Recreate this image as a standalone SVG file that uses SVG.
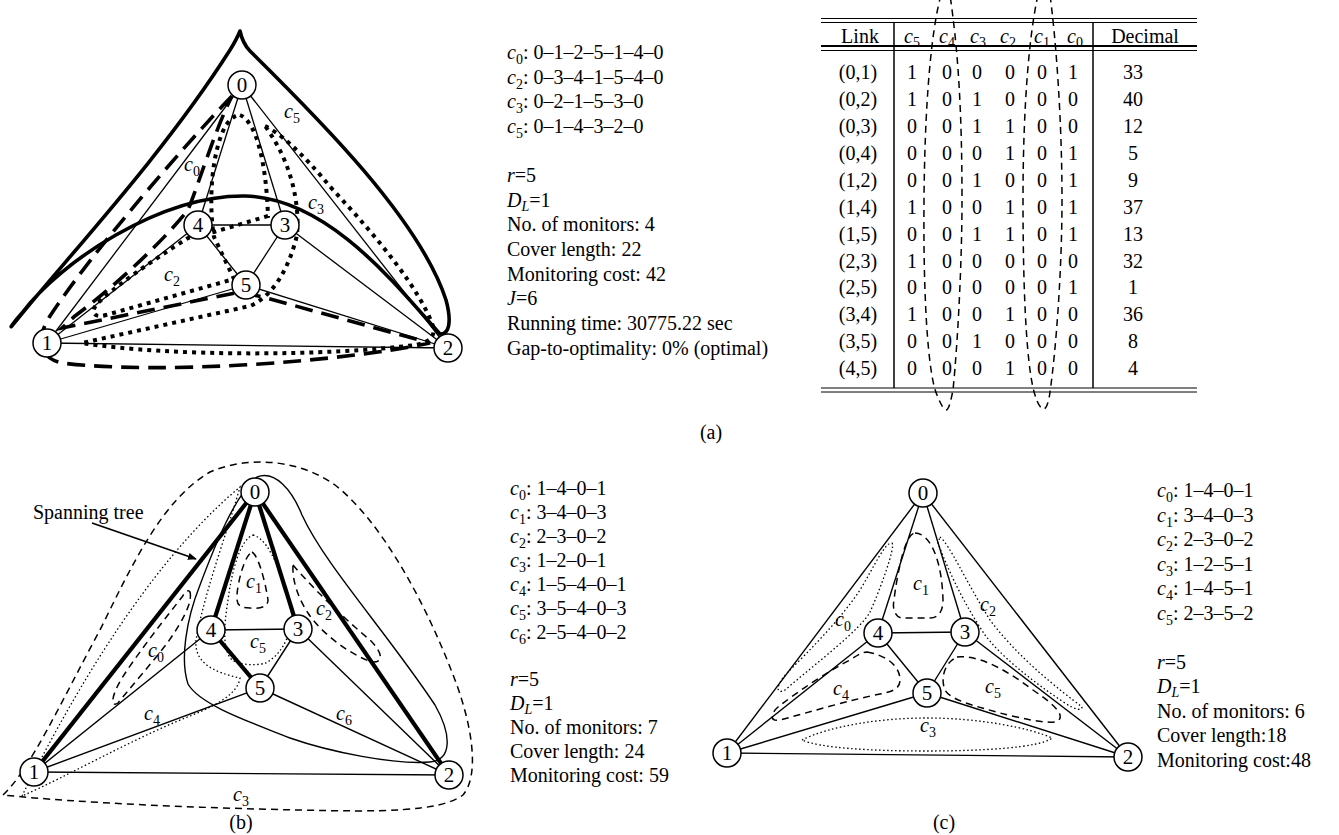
<svg xmlns="http://www.w3.org/2000/svg" width="1339" height="835" viewBox="0 0 1339 835">
<style>
text{font-family:"Liberation Serif","Times New Roman",serif;font-size:20px;fill:#000}
.i{font-style:italic}
.s{font-size:14px}
.m{text-anchor:middle}
.node circle{fill:#fff;stroke:#000;stroke-width:1.5}
.node text{font-size:21px;text-anchor:middle}
.e{stroke:#000;stroke-width:1.3;fill:none}
.tk{stroke:#000;stroke-width:4.2;fill:none}
.solid3{stroke:#000;stroke-width:3.6;fill:none;stroke-linejoin:round}
.dash3{stroke:#000;stroke-width:3.6;fill:none;stroke-dasharray:18 9}
.dot3{stroke:#000;stroke-width:4;fill:none;stroke-dasharray:4 5}
.dsh{stroke:#000;stroke-width:1.5;fill:none;stroke-dasharray:7 5}
.dtt{stroke:#000;stroke-width:1.3;fill:none;stroke-dasharray:1.5 2.5}
.thin{stroke:#000;stroke-width:1.4;fill:none}
.tl{stroke:#000;fill:none}
</style>
<defs>
<marker id="ah" viewBox="0 0 10 10" refX="9" refY="5" markerWidth="9" markerHeight="9" orient="auto" markerUnits="userSpaceOnUse">
<path d="M0,1 L10,5 L0,9 Z" fill="#000"/>
</marker>
</defs>

<!-- ================= (a) ================= -->
<g id="a-edges">
<line class="e" x1="242" y1="85" x2="47" y2="343"/>
<line class="e" x1="242" y1="85" x2="198" y2="225"/>
<line class="e" x1="242" y1="85" x2="285" y2="225"/>
<line class="e" x1="242" y1="85" x2="448" y2="348"/>
<line class="e" x1="198" y1="225" x2="285" y2="225"/>
<line class="e" x1="198" y1="225" x2="246" y2="285"/>
<line class="e" x1="285" y1="225" x2="246" y2="285"/>
<line class="e" x1="198" y1="225" x2="47" y2="343"/>
<line class="e" x1="246" y1="285" x2="47" y2="343"/>
<line class="e" x1="246" y1="285" x2="448" y2="348"/>
<line class="e" x1="285" y1="225" x2="448" y2="348"/>
<line class="e" x1="47" y1="343" x2="448" y2="348"/>
</g>
<g id="a-cycles">
<path class="solid3" d="M12,326 C60,265 160,160 230,50 C235,42 238,36 240,31 C242,40 245,46 250,51 C320,120 420,220 446,300 C452,322 449,335 440,334 C400,290 330,198 245,196 C160,195 60,262 22,313 C14,322 9,329 12,326 Z"/>
<path class="dash3" d="M232,96 C180,150 90,255 50,316 C36,338 38,358 62,363 C160,375 340,362 430,343 L263,297 L240,292 L62,328 L75,316 C110,290 160,245 188,210 C200,180 215,130 232,96"/>
<path class="dot3" d="M240,115 C256,122 266,160 268,216 L214,232 L188,238 C150,262 110,290 96,305 C90,314 96,318 106,315 L234,279 L214,237 C208,200 212,150 226,125 C232,117 236,115 240,115 Z"/>
<path class="dot3" d="M265,126 C278,132 300,150 333,190 C380,240 420,290 433,326 C436,340 425,343 415,345 C330,356 170,357 82,343 L250,306 C275,295 290,265 297,235 C300,200 290,160 265,126 Z"/>
</g>
<g id="a-labels">
<text x="284" y="118"><tspan class="i">c</tspan><tspan class="s" dy="5">5</tspan></text>
<text x="184" y="171"><tspan class="i">c</tspan><tspan class="s" dy="5">0</tspan></text>
<text x="308" y="209"><tspan class="i">c</tspan><tspan class="s" dy="5">3</tspan></text>
<text x="164" y="281"><tspan class="i">c</tspan><tspan class="s" dy="5">2</tspan></text>
</g>
<g id="a-n0" class="node"><circle cx="242" cy="85" r="14"/><text x="242" y="92">0</text></g>
<g id="a-n4" class="node"><circle cx="198" cy="225" r="14"/><text x="198" y="232">4</text></g>
<g id="a-n3" class="node"><circle cx="285" cy="225" r="14"/><text x="285" y="232">3</text></g>
<g id="a-n5" class="node"><circle cx="246" cy="285" r="14"/><text x="246" y="292">5</text></g>
<g id="a-n1" class="node"><circle cx="47" cy="343" r="14"/><text x="47" y="350">1</text></g>
<g id="a-n2" class="node"><circle cx="448" cy="348" r="14"/><text x="448" y="355">2</text></g>

<g id="a-text">
<text x="507" y="59"><tspan class="i">c</tspan><tspan class="s" dy="5">0</tspan><tspan dy="-5">: 0–1–2–5–1–4–0</tspan></text>
<text x="507" y="83.5"><tspan class="i">c</tspan><tspan class="s" dy="5">2</tspan><tspan dy="-5">: 0–3–4–1–5–4–0</tspan></text>
<text x="507" y="108"><tspan class="i">c</tspan><tspan class="s" dy="5">3</tspan><tspan dy="-5">: 0–2–1–5–3–0</tspan></text>
<text x="507" y="132.5"><tspan class="i">c</tspan><tspan class="s" dy="5">5</tspan><tspan dy="-5">: 0–1–4–3–2–0</tspan></text>
<text x="507" y="182"><tspan class="i">r</tspan>=5</text>
<text x="507" y="206.5"><tspan class="i">D</tspan><tspan class="s i" dy="4">L</tspan><tspan dy="-4">=1</tspan></text>
<text x="507" y="231">No. of monitors: 4</text>
<text x="507" y="256">Cover length: 22</text>
<text x="507" y="280.5">Monitoring cost: 42</text>
<text x="507" y="305"><tspan class="i">J</tspan>=6</text>
<text x="507" y="330">Running time: 30775.22 sec</text>
<text x="507" y="355">Gap-to-optimality: 0% (optimal)</text>
</g>

<g id="table">
<line class="tl" x1="821" y1="18.5" x2="1197" y2="18.5" stroke-width="1"/>
<line class="tl" x1="821" y1="22.5" x2="1197" y2="22.5" stroke-width="1"/>
<line class="tl" x1="821" y1="46" x2="1197" y2="46" stroke-width="2"/>
<line class="tl" x1="821" y1="50.5" x2="1197" y2="50.5" stroke-width="1"/>
<line class="tl" x1="821" y1="388" x2="1197" y2="388" stroke-width="1"/>
<line class="tl" x1="821" y1="392" x2="1197" y2="392" stroke-width="1"/>
<line class="tl" x1="894" y1="22.5" x2="894" y2="388" stroke-width="1.5"/>
<line class="tl" x1="1093" y1="22.5" x2="1093" y2="388" stroke-width="1.5"/>
<g class="m">
<text x="860" y="43">Link</text>
<text x="912" y="43"><tspan class="i">c</tspan><tspan class="s" dy="4">5</tspan></text>
<text x="947" y="43"><tspan class="i">c</tspan><tspan class="s" dy="4">4</tspan></text>
<text x="978" y="43"><tspan class="i">c</tspan><tspan class="s" dy="4">3</tspan></text>
<text x="1008" y="43"><tspan class="i">c</tspan><tspan class="s" dy="4">2</tspan></text>
<text x="1042" y="43"><tspan class="i">c</tspan><tspan class="s" dy="4">1</tspan></text>
<text x="1075" y="43"><tspan class="i">c</tspan><tspan class="s" dy="4">0</tspan></text>
<text x="1145" y="43">Decimal</text>
</g>
<g class="m">
<text x="858" y="79">(0,1)</text><text x="912" y="79">1</text><text x="947" y="79">0</text><text x="977" y="79">0</text><text x="1010" y="79">0</text><text x="1042" y="79">0</text><text x="1073" y="79">1</text><text x="1133" y="79">33</text>
<text x="858" y="106">(0,2)</text><text x="912" y="106">1</text><text x="947" y="106">0</text><text x="977" y="106">1</text><text x="1010" y="106">0</text><text x="1042" y="106">0</text><text x="1073" y="106">0</text><text x="1133" y="106">40</text>
<text x="858" y="133">(0,3)</text><text x="912" y="133">0</text><text x="947" y="133">0</text><text x="977" y="133">1</text><text x="1010" y="133">1</text><text x="1042" y="133">0</text><text x="1073" y="133">0</text><text x="1133" y="133">12</text>
<text x="858" y="160">(0,4)</text><text x="912" y="160">0</text><text x="947" y="160">0</text><text x="977" y="160">0</text><text x="1010" y="160">1</text><text x="1042" y="160">0</text><text x="1073" y="160">1</text><text x="1133" y="160">5</text>
<text x="858" y="187">(1,2)</text><text x="912" y="187">0</text><text x="947" y="187">0</text><text x="977" y="187">1</text><text x="1010" y="187">0</text><text x="1042" y="187">0</text><text x="1073" y="187">1</text><text x="1133" y="187">9</text>
<text x="858" y="214">(1,4)</text><text x="912" y="214">1</text><text x="947" y="214">0</text><text x="977" y="214">0</text><text x="1010" y="214">1</text><text x="1042" y="214">0</text><text x="1073" y="214">1</text><text x="1133" y="214">37</text>
<text x="858" y="241">(1,5)</text><text x="912" y="241">0</text><text x="947" y="241">0</text><text x="977" y="241">1</text><text x="1010" y="241">1</text><text x="1042" y="241">0</text><text x="1073" y="241">1</text><text x="1133" y="241">13</text>
<text x="858" y="268">(2,3)</text><text x="912" y="268">1</text><text x="947" y="268">0</text><text x="977" y="268">0</text><text x="1010" y="268">0</text><text x="1042" y="268">0</text><text x="1073" y="268">0</text><text x="1133" y="268">32</text>
<text x="858" y="294">(2,5)</text><text x="912" y="294">0</text><text x="947" y="294">0</text><text x="977" y="294">0</text><text x="1010" y="294">0</text><text x="1042" y="294">0</text><text x="1073" y="294">1</text><text x="1133" y="294">1</text>
<text x="858" y="321">(3,4)</text><text x="912" y="321">1</text><text x="947" y="321">0</text><text x="977" y="321">0</text><text x="1010" y="321">1</text><text x="1042" y="321">0</text><text x="1073" y="321">0</text><text x="1133" y="321">36</text>
<text x="858" y="348">(3,5)</text><text x="912" y="348">0</text><text x="947" y="348">0</text><text x="977" y="348">1</text><text x="1010" y="348">0</text><text x="1042" y="348">0</text><text x="1073" y="348">0</text><text x="1133" y="348">8</text>
<text x="858" y="375">(4,5)</text><text x="912" y="375">0</text><text x="947" y="375">0</text><text x="977" y="375">0</text><text x="1010" y="375">1</text><text x="1042" y="375">0</text><text x="1073" y="375">0</text><text x="1133" y="375">4</text>
</g>
<path class="dsh" d="M941,-5 C934,20 925,80 924,200 C923,320 930,380 937,395 C941,405 944,410 946,410 C949,410 951,400 953,390 C958,340 962,260 962,200 C962,110 958,50 950,-5"/>
<path class="dsh" d="M1038,-5 C1030,30 1023,100 1023,200 C1023,300 1027,370 1035,395 C1038,405 1041,409 1044,409 C1047,408 1049,400 1050,392 C1056,350 1062,270 1062,200 C1062,120 1056,40 1050,-5"/>
</g>
<text x="711" y="439" class="m">(a)</text>

<!-- ================= (b) ================= -->
<g id="b-edges">
<line class="tk" x1="255" y1="492" x2="34" y2="772"/>
<line class="tk" x1="255" y1="492" x2="211" y2="630"/>
<line class="tk" x1="255" y1="492" x2="298" y2="629"/>
<line class="tk" x1="255" y1="492" x2="449" y2="775"/>
<line class="tk" x1="211" y1="630" x2="260" y2="688"/>
<line class="thin" x1="211" y1="630" x2="298" y2="629"/>
<line class="thin" x1="298" y1="629" x2="260" y2="688"/>
<line class="thin" x1="211" y1="630" x2="34" y2="772"/>
<line class="thin" x1="260" y1="688" x2="34" y2="772"/>
<line class="thin" x1="260" y1="688" x2="449" y2="775"/>
<line class="thin" x1="298" y1="629" x2="449" y2="775"/>
<line class="thin" x1="34" y1="772" x2="449" y2="775"/>
</g>
<g id="b-cycles">
<path class="dsh" d="M3,795 C30,770 62,700 100,630 C132,565 162,500 210,472 C250,455 300,460 335,485 C380,520 425,600 455,680 C472,725 480,775 463,795 C440,812 380,812 300,810 C200,808 80,803 3,795 Z"/>
<path class="dtt" d="M22,796 C60,720 140,570 240,487 C228,530 205,590 196,640 C194,662 212,672 240,678 C238,694 215,706 190,716 C130,740 70,775 22,796 Z"/>
<path class="dtt" d="M253,535 C272,540 285,585 292,615 C290,640 280,655 266,663 C255,666 240,665 232,660 C222,650 224,625 228,600 C232,570 240,540 253,535 Z"/>
<path class="thin" d="M257,477 C275,470 292,490 302,515 C325,565 385,630 435,705 C452,735 452,760 430,762 C395,765 330,752 290,738 C250,722 200,705 188,684 C180,660 186,620 200,585 C215,545 235,495 257,477 Z"/>
<path class="dsh" d="M190,592 C193,602 182,622 168,642 C152,663 130,688 118,703 C111,708 110,698 122,678 C140,650 168,615 182,597 C185,592 188,589 190,592 Z"/>
<path class="dsh" d="M252,552 C258,555 265,580 268,600 C268,607 260,609 250,608 C240,608 236,605 237,595 C238,580 245,555 252,552 Z"/>
<path class="dsh" d="M293,565 C310,585 340,615 370,640 C385,655 382,663 372,662 C350,655 320,632 308,613 C298,598 292,580 293,565 Z"/>
</g>
<g id="b-labels">
<text x="148" y="657"><tspan class="i">c</tspan><tspan class="s" dy="5">0</tspan></text>
<text x="246" y="588"><tspan class="i">c</tspan><tspan class="s" dy="5">1</tspan></text>
<text x="316" y="615"><tspan class="i">c</tspan><tspan class="s" dy="5">2</tspan></text>
<text x="250" y="648"><tspan class="i">c</tspan><tspan class="s" dy="5">5</tspan></text>
<text x="144" y="720"><tspan class="i">c</tspan><tspan class="s" dy="5">4</tspan></text>
<text x="336" y="720"><tspan class="i">c</tspan><tspan class="s" dy="5">6</tspan></text>
<text x="233" y="801"><tspan class="i">c</tspan><tspan class="s" dy="5">3</tspan></text>
</g>
<g id="b-spanning">
<text x="33" y="519" font-size="21">Spanning tree</text>
<line x1="92" y1="523" x2="196" y2="559" stroke="#000" stroke-width="1.8" marker-end="url(#ah)"/>
</g>
<g id="b-n0" class="node"><circle cx="255" cy="492" r="14"/><text x="255" y="499">0</text></g>
<g id="b-n4" class="node"><circle cx="211" cy="630" r="14"/><text x="211" y="637">4</text></g>
<g id="b-n3" class="node"><circle cx="298" cy="629" r="14"/><text x="298" y="636">3</text></g>
<g id="b-n5" class="node"><circle cx="260" cy="688" r="14"/><text x="260" y="695">5</text></g>
<g id="b-n1" class="node"><circle cx="34" cy="772" r="14"/><text x="34" y="779">1</text></g>
<g id="b-n2" class="node"><circle cx="449" cy="775" r="14"/><text x="449" y="782">2</text></g>

<g id="b-text">
<text x="510" y="495"><tspan class="i">c</tspan><tspan class="s" dy="5">0</tspan><tspan dy="-5">: 1–4–0–1</tspan></text>
<text x="510" y="519"><tspan class="i">c</tspan><tspan class="s" dy="5">1</tspan><tspan dy="-5">: 3–4–0–3</tspan></text>
<text x="510" y="543"><tspan class="i">c</tspan><tspan class="s" dy="5">2</tspan><tspan dy="-5">: 2–3–0–2</tspan></text>
<text x="510" y="567"><tspan class="i">c</tspan><tspan class="s" dy="5">3</tspan><tspan dy="-5">: 1–2–0–1</tspan></text>
<text x="510" y="591"><tspan class="i">c</tspan><tspan class="s" dy="5">4</tspan><tspan dy="-5">: 1–5–4–0–1</tspan></text>
<text x="510" y="614.5"><tspan class="i">c</tspan><tspan class="s" dy="5">5</tspan><tspan dy="-5">: 3–5–4–0–3</tspan></text>
<text x="510" y="638.5"><tspan class="i">c</tspan><tspan class="s" dy="5">6</tspan><tspan dy="-5">: 2–5–4–0–2</tspan></text>
<text x="510" y="686"><tspan class="i">r</tspan>=5</text>
<text x="510" y="710"><tspan class="i">D</tspan><tspan class="s i" dy="4">L</tspan><tspan dy="-4">=1</tspan></text>
<text x="510" y="734">No. of monitors: 7</text>
<text x="510" y="758">Cover length: 24</text>
<text x="510" y="782">Monitoring cost: 59</text>
</g>
<text x="241" y="829" class="m">(b)</text>

<!-- ================= (c) ================= -->
<g id="c-edges">
<line class="thin" x1="923" y1="493" x2="727" y2="753"/>
<line class="thin" x1="923" y1="493" x2="878" y2="633"/>
<line class="thin" x1="923" y1="493" x2="965" y2="632"/>
<line class="thin" x1="923" y1="493" x2="1128" y2="757"/>
<line class="thin" x1="878" y1="633" x2="965" y2="632"/>
<line class="thin" x1="878" y1="633" x2="927" y2="693"/>
<line class="thin" x1="965" y1="632" x2="927" y2="693"/>
<line class="thin" x1="878" y1="633" x2="727" y2="753"/>
<line class="thin" x1="927" y1="693" x2="727" y2="753"/>
<line class="thin" x1="927" y1="693" x2="1128" y2="757"/>
<line class="thin" x1="965" y1="632" x2="1128" y2="757"/>
<line class="thin" x1="727" y1="753" x2="1128" y2="757"/>
</g>
<g id="c-cycles">
<path class="dsh" d="M915,533 C930,533 942,560 943,600 C943,612 938,618 930,618 L903,618 C895,618 892,608 894,600 C897,575 905,533 915,533 Z"/>
<path class="dtt" d="M892,543 C896,546 880,590 870,612 C860,630 820,660 785,690 C776,695 775,686 787,673 C810,650 840,620 860,590 C875,565 885,542 892,543 Z"/>
<path class="dtt" d="M940,537 C950,545 965,580 990,620 C1020,660 1060,690 1082,707 C1082,711 1075,710 1065,703 C1030,680 1000,655 985,635 C965,605 950,575 938,543 Z"/>
<path class="dsh" d="M867,652 C885,655 900,665 900,680 C900,690 890,692 880,694 C850,700 810,712 780,720 C770,722 770,714 778,707 C800,690 830,670 850,660 C858,655 862,652 867,652 Z"/>
<path class="dsh" d="M957,657 C975,655 1000,665 1033,690 C1055,705 1065,715 1058,721 C1050,725 1020,718 1000,713 C975,706 950,700 945,690 C940,678 945,662 957,657 Z"/>
<path class="dtt" d="M802,740 C830,726 880,718 927,718 C980,718 1030,728 1052,738 C1040,748 980,751 927,751 C870,751 820,748 802,740 Z"/>
</g>
<g id="c-labels">
<text x="913" y="590"><tspan class="i">c</tspan><tspan class="s" dy="5">1</tspan></text>
<text x="835" y="626"><tspan class="i">c</tspan><tspan class="s" dy="5">0</tspan></text>
<text x="980" y="611"><tspan class="i">c</tspan><tspan class="s" dy="5">2</tspan></text>
<text x="833" y="695"><tspan class="i">c</tspan><tspan class="s" dy="5">4</tspan></text>
<text x="985" y="693"><tspan class="i">c</tspan><tspan class="s" dy="5">5</tspan></text>
<text x="920" y="732"><tspan class="i">c</tspan><tspan class="s" dy="5">3</tspan></text>
</g>
<g id="c-n0" class="node"><circle cx="923" cy="493" r="14"/><text x="923" y="500">0</text></g>
<g id="c-n4" class="node"><circle cx="878" cy="633" r="14"/><text x="878" y="640">4</text></g>
<g id="c-n3" class="node"><circle cx="965" cy="632" r="14"/><text x="965" y="639">3</text></g>
<g id="c-n5" class="node"><circle cx="927" cy="693" r="14"/><text x="927" y="700">5</text></g>
<g id="c-n1" class="node"><circle cx="727" cy="753" r="14"/><text x="727" y="760">1</text></g>
<g id="c-n2" class="node"><circle cx="1128" cy="757" r="14"/><text x="1128" y="764">2</text></g>

<g id="c-text">
<text x="1157" y="497"><tspan class="i">c</tspan><tspan class="s" dy="5">0</tspan><tspan dy="-5">: 1–4–0–1</tspan></text>
<text x="1157" y="521.5"><tspan class="i">c</tspan><tspan class="s" dy="5">1</tspan><tspan dy="-5">: 3–4–0–3</tspan></text>
<text x="1157" y="546"><tspan class="i">c</tspan><tspan class="s" dy="5">2</tspan><tspan dy="-5">: 2–3–0–2</tspan></text>
<text x="1157" y="570.5"><tspan class="i">c</tspan><tspan class="s" dy="5">3</tspan><tspan dy="-5">: 1–2–5–1</tspan></text>
<text x="1157" y="595"><tspan class="i">c</tspan><tspan class="s" dy="5">4</tspan><tspan dy="-5">: 1–4–5–1</tspan></text>
<text x="1157" y="619.5"><tspan class="i">c</tspan><tspan class="s" dy="5">5</tspan><tspan dy="-5">: 2–3–5–2</tspan></text>
<text x="1157" y="668.5"><tspan class="i">r</tspan>=5</text>
<text x="1157" y="693"><tspan class="i">D</tspan><tspan class="s i" dy="4">L</tspan><tspan dy="-4">=1</tspan></text>
<text x="1157" y="717.5">No. of monitors: 6</text>
<text x="1157" y="742">Cover length:18</text>
<text x="1157" y="766.5">Monitoring cost:48</text>
</g>
<text x="944" y="829" class="m">(c)</text>
</svg>
